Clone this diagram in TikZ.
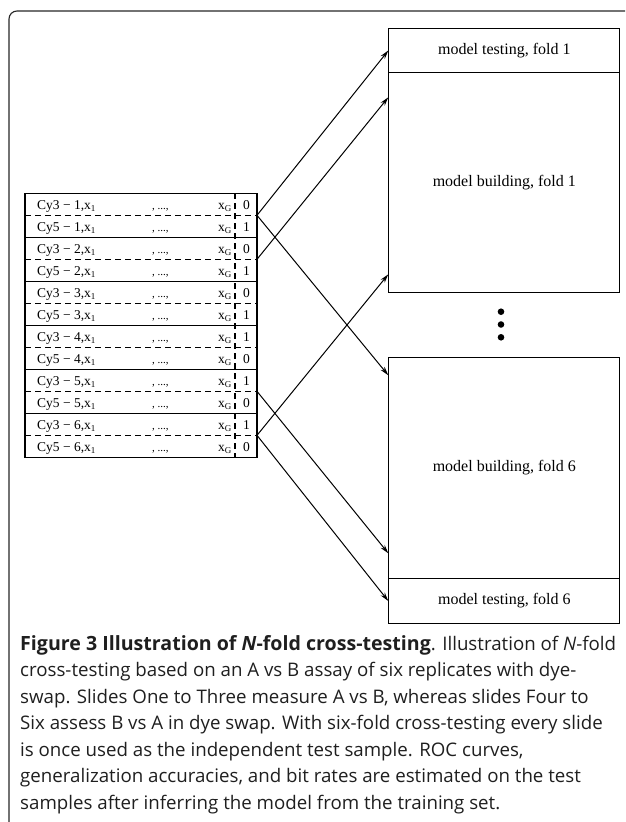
\documentclass[tikz,border=0pt]{standalone}
\usepackage{fontspec}
\setmainfont{Liberation Serif}
\newfontfamily\capfont{Open Sans}
\newcommand\capsize{\capfont\fontsize{18.7pt}{22pt}\selectfont}
\newcommand\capbold[1]{{\fontsize{19.6pt}{22pt}\selectfont\bfseries #1}}
\usetikzlibrary{arrows.meta}
\begin{document}
\begin{tikzpicture}[x=1pt,y=-1pt,
  frame/.style={line width=1.1pt,draw=black!85},
  tbl/.style={line width=1.1pt},
  tbldash/.style={line width=1.1pt,dash pattern=on 6pt off 4pt},
  rowtxt/.style={inner sep=0pt,font=\fontsize{13.5}{15}\selectfont},
  boxnode/.style={draw,line width=1pt,minimum width=231pt,inner sep=0pt,anchor=north west,font=\fontsize{16}{19}\selectfont},
  arr/.style={line width=1pt,-{Stealth[length=9pt,width=5pt]}},
  capline/.style={inner sep=0pt,anchor=base west,text=black!88}]
\useasboundingbox (0,0) rectangle (625,822);
% outer frame
\draw[frame,rounded corners=8pt] (9,822) -- (9,11) -- (625,11);
% table
\def\T{193.3}
\draw[tbl] (25,\T) rectangle (257,{\T+264});
\foreach \k in {2,4,...,10} \draw[tbl] (25,{\T+22*\k}) -- (257,{\T+22*\k});
\foreach \k in {1,3,...,11} \draw[tbldash] (25,{\T+22*\k}) -- (257,{\T+22*\k});
\draw[tbldash] (235,\T) -- (235,{\T+264});
\foreach \lab/\val [count=\i] in {Cy3 − 1/0,Cy5 − 1/1,Cy3 − 2/0,Cy5 − 2/1,Cy3 − 3/0,Cy5 − 3/1,Cy3 − 4/1,Cy5 − 4/0,Cy3 − 5/1,Cy5 − 5/0,Cy3 − 6/1,Cy5 − 6/0}{
  \node[rowtxt,anchor=base west] (r\i) at (37,{\T+22*\i-6}) {\lab,x\raisebox{-2.5pt}{\fontsize{9}{10}\selectfont 1}};
  \node[rowtxt,anchor=base west,font=\fontsize{11}{12}\selectfont] (d\i) at (152,{\T+22*\i-6}) {, ...,};
  \node[rowtxt,anchor=base west] (g\i) at (218,{\T+22*\i-6}) {x\raisebox{-2.5pt}{\fontsize{9}{10}\selectfont G}};
  \node[rowtxt,anchor=base] (v\i) at (246.5,{\T+22*\i-6}) {\val};
}
% right boxes
\node[boxnode,minimum height=43.4pt] (test1) at (388.3,28.3) {model testing, fold 1};
\node[boxnode,minimum height=220pt] (build1) at (388.3,71.7) {model building, fold 1};
\node[boxnode,minimum height=221pt] (build6) at (388.3,357) {model building, fold 6};
\node[boxnode,minimum height=45pt] (test6) at (388.3,578) {model testing, fold 6};
% dots
\fill (501,311.7) circle (3.3pt);
\fill (501,324.5) circle (3.3pt);
\fill (501,337.3) circle (3.3pt);
% arrows
\coordinate (s1) at (257,{\T+22});
\coordinate (s3) at (257,{\T+66});
\coordinate (s9) at (257,{\T+198});
\coordinate (s11) at (257,{\T+242});
\coordinate (t2) at (388.3,97.3);
\coordinate (t3) at (388.3,375.3);
\coordinate (t4) at (388.3,274.3);
\coordinate (t5) at (388.3,553.3);
\draw[arr] (s1) -- (test1.west);
\draw[arr] (s3) -- (t2);
\draw[arr] (s1) -- (t3);
\draw[arr] (s11) -- (t4);
\draw[arr] (s9) -- (t5);
\draw[arr] (s11) -- (test6.west);
% caption
\node[capline] (c1) at (20,650) {\capsize\capbold{Figure 3 Illustration of \textit{N}-fold cross-testing}. Illustration of \textit{N}-fold};
\node[capline] (c2) at (20,676.5) {\capsize cross-testing based on an A vs B assay of six replicates with dye-};
\node[capline] (c3) at (20,703) {\capsize swap. Slides One to Three measure A vs B, whereas slides Four to};
\node[capline] (c4) at (20,729.5) {\capsize Six assess B vs A in dye swap. With six-fold cross-testing every slide};
\node[capline] (c5) at (20,756) {\capsize is once used as the independent test sample. ROC curves,};
\node[capline] (c6) at (20,782.5) {\capsize generalization accuracies, and bit rates are estimated on the test};
\node[capline] (c7) at (20,809) {\capsize samples after inferring the model from the training set.};
\end{tikzpicture}
\end{document}
